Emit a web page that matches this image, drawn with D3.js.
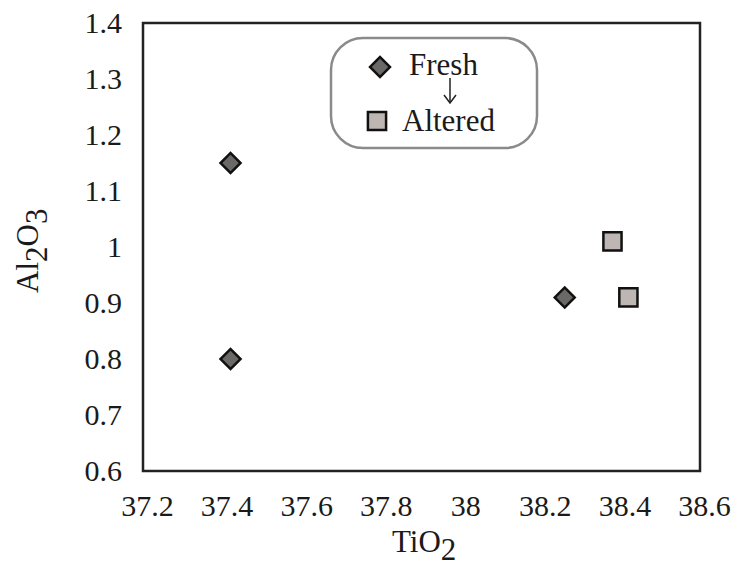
<!DOCTYPE html>
<html>
<head>
<meta charset="utf-8">
<script src="https://cdn.jsdelivr.net/npm/d3@7"></script>
<style>
  html, body { margin: 0; padding: 0; background: #fff; }
  svg text { font-family: "Liberation Serif", "Times New Roman", serif; }
</style>
</head>
<body>
<svg id="chart" width="736" height="567"></svg>
<script>
// TiO2 vs Al2O3 for fresh and altered samples
const freshTiO2 = [37.42, 37.42, 38.26];
const freshAl2O3 = [1.15, 0.80, 0.91];
const alteredTiO2 = [38.38, 38.42];
const alteredAl2O3 = [1.01, 0.91];
const xTicks = [37.2, 37.4, 37.6, 37.8, 38, 38.2, 38.4, 38.6];
const yTicks = [0.6, 0.7, 0.8, 0.9, 1, 1.1, 1.2, 1.3, 1.4];
const legendLabels = ["Fresh", "Altered"];

const svg = d3.select("#chart");
const m = { left: 143, right: 700, top: 23, bottom: 471 };

const x = d3.scaleLinear().domain([37.2, 38.6]).range([m.left, m.right]);
const y = d3.scaleLinear().domain([0.6, 1.4]).range([m.bottom, m.top]);

// plot frame
svg.append("rect")
  .attr("x", m.left).attr("y", m.top)
  .attr("width", m.right - m.left).attr("height", m.bottom - m.top)
  .attr("fill", "none").attr("stroke", "#222").attr("stroke-width", 2.5);

// x axis labels
const xAxis = svg.append("g").attr("transform", `translate(0,${m.bottom})`)
  .call(d3.axisBottom(x).tickValues(xTicks).tickSize(0)
    .tickFormat(d => String(d)));
xAxis.attr("font-family", null).attr("font-size", null);
xAxis.select(".domain").remove();
xAxis.selectAll("text").attr("font-size", 30).attr("fill", "#1a1a1a")
  .attr("dx", 4).attr("dy", "0.71em").attr("y", 24);

// y axis labels
const yAxis = svg.append("g").attr("transform", `translate(${m.left},0)`)
  .call(d3.axisLeft(y).tickValues(yTicks).tickSize(0).tickPadding(21)
    .tickFormat(d => String(d)));
yAxis.attr("font-family", null).attr("font-size", null);
yAxis.select(".domain").remove();
yAxis.selectAll("text").attr("font-size", 30).attr("fill", "#1a1a1a");

// axis titles
const xt = svg.append("text").attr("x", 392).attr("y", 552)
  .attr("font-size", 31).attr("fill", "#1a1a1a");
xt.append("tspan").text("TiO");
xt.append("tspan").attr("dy", 8).text("2");

const yt = svg.append("text")
  .attr("transform", "translate(38,293) rotate(-90)")
  .attr("font-size", 31).attr("fill", "#1a1a1a");
yt.append("tspan").text("Al");
yt.append("tspan").attr("dy", 9).text("2");
yt.append("tspan").attr("dy", -9).text("O");
yt.append("tspan").attr("dy", 9).text("3");

const diamond = d3.symbol().type(d3.symbolSquare).size(200);
const square = d3.symbol().type(d3.symbolSquare).size(330);

const fresh = freshTiO2.map((v, i) => ({ x: v, y: freshAl2O3[i] }));
const altered = alteredTiO2.map((v, i) => ({ x: v, y: alteredAl2O3[i] }));

svg.append("g").selectAll("path").data(fresh).join("path")
  .attr("d", diamond)
  .attr("transform", d => `translate(${x(d.x)},${y(d.y)}) rotate(45)`)
  .attr("fill", "#6b6868").attr("stroke", "#111").attr("stroke-width", 2.5);

svg.append("g").selectAll("path").data(altered).join("path")
  .attr("d", square)
  .attr("transform", d => `translate(${x(d.x)},${y(d.y)})`)
  .attr("fill", "#bdb6b3").attr("stroke", "#111").attr("stroke-width", 2.5);

// legend
const lg = svg.append("g");
lg.append("rect").attr("x", 331).attr("y", 38).attr("width", 206).attr("height", 110)
  .attr("rx", 32).attr("ry", 32)
  .attr("fill", "#fff").attr("stroke", "#8a8a8a").attr("stroke-width", 2.5);
lg.append("path").attr("d", diamond)
  .attr("transform", "translate(380,67) rotate(45)")
  .attr("fill", "#6b6868").attr("stroke", "#111").attr("stroke-width", 2.5);
lg.append("path").attr("d", square)
  .attr("transform", "translate(377,121)")
  .attr("fill", "#bdb6b3").attr("stroke", "#111").attr("stroke-width", 2.5);
lg.append("text").attr("x", 409).attr("y", 75).attr("font-size", 31)
  .attr("fill", "#1a1a1a").text(legendLabels[0]);
lg.append("text").attr("x", 402).attr("y", 131).attr("font-size", 31)
  .attr("fill", "#1a1a1a").text(legendLabels[1]);
// arrow from Fresh to Altered
lg.append("line").attr("x1", 450).attr("y1", 78).attr("x2", 450).attr("y2", 102)
  .attr("stroke", "#222").attr("stroke-width", 1.5);
lg.append("path").attr("d", "M444,95 L450,103 L456,95")
  .attr("fill", "none").attr("stroke", "#222").attr("stroke-width", 1.5);
</script>
</body>
</html>
